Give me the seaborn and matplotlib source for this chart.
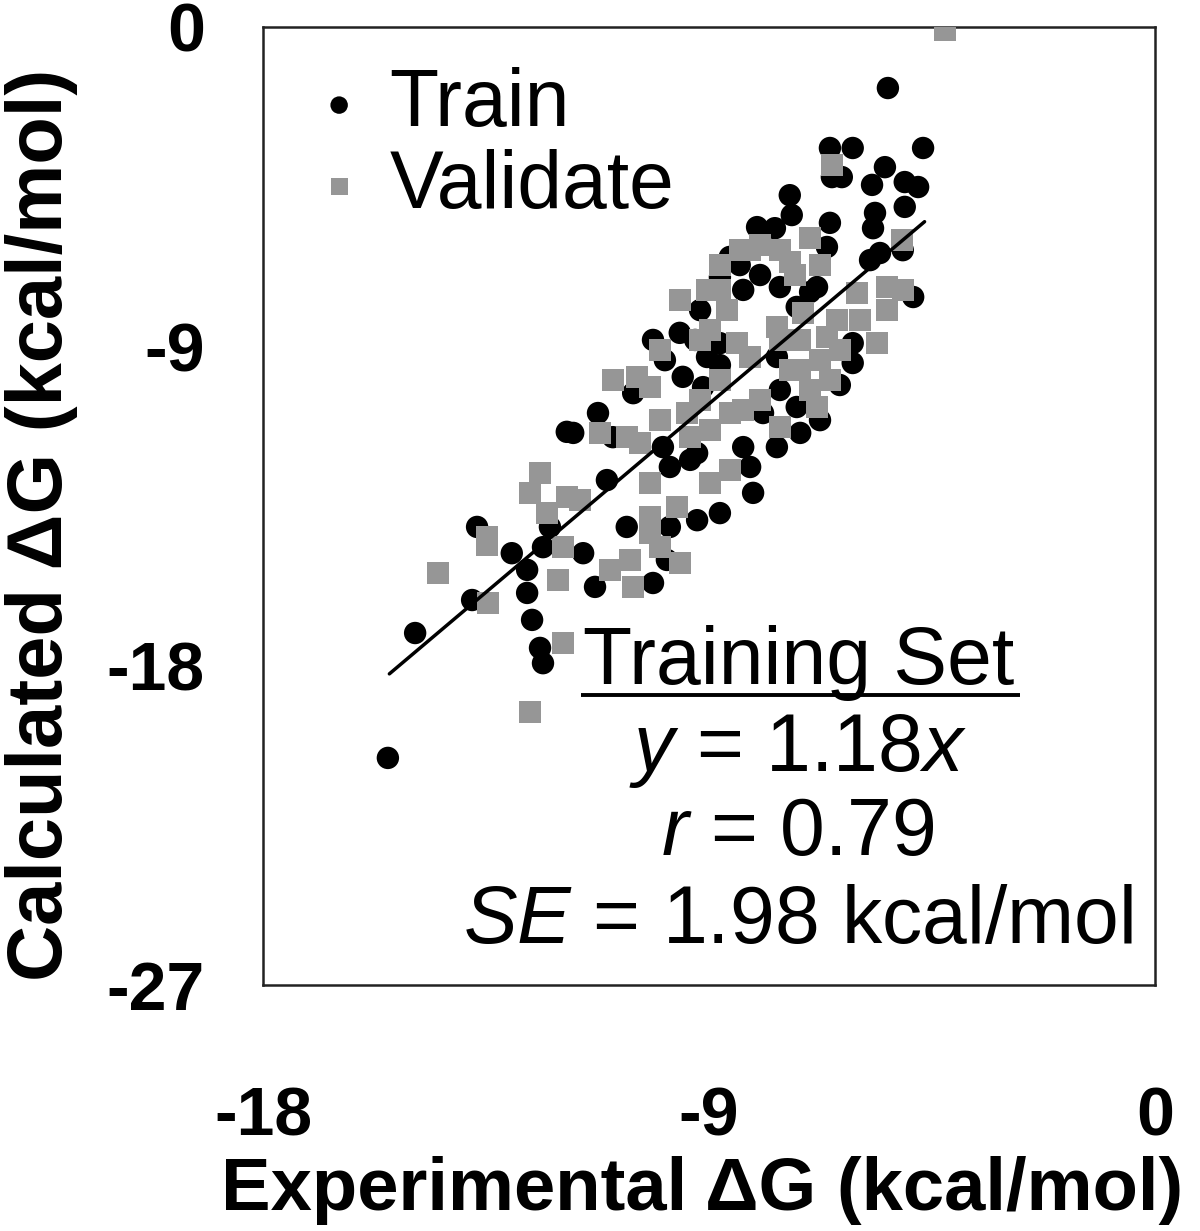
import numpy as np
import pandas as pd
import matplotlib
matplotlib.use("Agg")
import matplotlib.pyplot as plt
import seaborn as sns

# Experimental / calculated binding free energies (kcal/mol)
train_x = [-15.48, -14.93, -13.78, -13.68, -12.98, -12.67, -12.67, -12.57, -12.41, -12.35,
           -12.35, -12.21, -11.87, -11.54, -11.30, -10.13, -9.85, -11.24, -11.74, -10.94,
           -11.06, -10.66, -9.79, -9.24, -8.78, -8.11, -8.17, -8.31, -9.38, -9.79,
           -9.24, -9.93, -10.53, -9.53, -9.12, -9.04, -9.59, -10.13, -9.18, -8.31,
           -7.91, -8.78, -8.58, -8.03, -7.57, -6.82, -7.23, -4.88, -6.10, -6.10,
           -7.57, -7.23, -6.76, -7.63, -7.16, -7.63, -5.39, -6.56, -6.10, -4.68,
           -5.45, -5.71, -5.05, -4.78, -6.52, -6.32, -7.37, -5.05, -5.65, -5.69,
           -6.56, -7.33, -7.67, -5.75, -5.55, -6.62, -5.09, -6.36, -8.78,
           -9.28, -8.78, -9.89, -8.38, -7.97, -6.96]
train_y = [-20.60, -17.08, -16.15, -14.09, -14.83, -15.30, -15.95, -16.71, -17.50, -17.93,
           -14.66, -14.09, -11.41, -14.83, -15.78, -15.67, -15.02, -10.88, -11.44, -11.56,
           -12.77, -14.09, -14.09, -13.90, -13.70, -13.13, -12.40, -11.84, -12.20, -12.40,
           -12.01, -11.84, -10.32, -9.86, -10.15, -9.30, -8.62, -8.82, -7.98, -7.41,
           -10.88, -7.05, -6.48, -5.64, -7.33, -7.33, -7.89, -7.61, -9.47, -8.91,
           -10.23, -10.71, -11.08, -11.84, -11.44, -9.30, -1.72, -3.41, -3.41, -3.41,
           -3.95, -4.45, -4.37, -4.51, -4.23, -4.23, -4.74, -5.07, -5.24, -5.67,
           -5.52, -5.30, -5.67, -6.57, -6.37, -6.20, -6.29, -10.09, -8.91,
           -8.82, -9.53, -9.39, -6.71, -6.99, -7.47]

val_x = [-4.24, -6.52, -6.96, -5.11, -7.57, -6.76, -8.17, -9.04, -8.64, -8.98,
         -8.44, -9.99, -8.17, -10.94, -10.45, -10.19, -9.44, -9.99, -11.20, -10.66,
         -10.39, -8.58, -8.31, -9.38, -8.98, -10.19, -8.98, -8.58, -11.60, -10.19,
         -9.65, -10.19, -7.63, -7.10, -6.62, -6.76, -6.96, -6.82, -7.57, -5.41,
         -5.09, -5.41, -5.61, -6.01, -6.42, -7.37, -12.41, -12.61, -12.27, -13.48,
         -11.87, -13.48, -14.47, -13.46, -12.05, -11.95, -12.61, -11.95, -11.00, -10.59,
         -10.53, -9.59, -9.99, -8.38, -8.78, -7.27, -9.18, -7.97,
         -7.16, -6.36, -5.95, -7.16, -6.56, -8.78, -9.18, -7.57, -7.97, -7.37,
         -8.78, -9.59]
val_y = [-0.08, -3.89, -5.95, -6.00, -6.29, -6.71, -6.29, -7.41, -7.98, -8.54,
         -8.91, -9.10, -9.30, -9.95, -9.86, -10.15, -10.88, -11.08, -11.44, -11.56,
         -11.73, -10.88, -10.79, -11.56, -11.36, -12.85, -12.85, -12.49, -13.33, -13.81,
         -13.53, -14.26, -8.46, -8.06, -8.74, -9.39, -10.23, -10.71, -11.27, -7.33,
         -7.41, -7.98, -8.91, -7.50, -8.26, -9.67, -12.57, -13.13, -13.70, -14.37,
         -13.25, -14.60, -15.39, -16.23, -15.59, -17.36, -19.31, -14.66, -15.30, -15.02,
         -15.78, -15.11, -14.66, -6.29, -6.71, -6.99, -8.82, -10.51,
         -8.82, -9.10, -8.26, -9.67, -9.95, -9.95, -10.51, -8.82, -6.14, -6.62,
         -7.41, -7.69]

# training-set fit y = 1.18x
fit_slope = 1.18
fit_x = [-15.45, -4.65]

x_ticks = [-18, -9, 0]
y_ticks = [-27, -18, -9, 0]

train = pd.DataFrame({"exp": train_x, "calc": train_y})
val = pd.DataFrame({"exp": val_x, "calc": val_y})
fit = pd.DataFrame({"exp": fit_x, "calc": [fit_slope * v for v in fit_x]})

sns.set_style("white")
plt.rcParams["font.family"] = ["Liberation Sans", "DejaVu Sans"]
plt.rcParams["axes.unicode_minus"] = False
plt.rcParams["mathtext.fontset"] = "custom"
plt.rcParams["mathtext.rm"] = "Liberation Sans"
plt.rcParams["mathtext.it"] = "Liberation Sans:italic"
for key in ["text.color", "axes.labelcolor", "xtick.color", "ytick.color"]:
    plt.rcParams[key] = "black"

fig = plt.figure(figsize=(12, 12.31), dpi=100)
ax = fig.add_axes([263 / 1200, 1 - 985 / 1231, 892 / 1200, 958 / 1231])

sns.scatterplot(data=train, x="exp", y="calc", ax=ax, color="black", marker="o",
                s=260, edgecolor="none", label="Train", zorder=2)
sns.scatterplot(data=val, x="exp", y="calc", ax=ax, color="#969696", marker="s",
                s=250, edgecolor="none", label="Validate", zorder=3)
sns.lineplot(data=fit, x="exp", y="calc", ax=ax, color="black", linewidth=2.5, zorder=4)

ax.set_xlim(-18, 0)
ax.set_ylim(-27, 0)
ax.set_xticks(x_ticks)
ax.set_yticks(y_ticks)
ax.tick_params(axis="both", length=0, labelsize=49)
ax.tick_params(axis="x", pad=72)
ax.tick_params(axis="y", pad=42)
for lab in ax.get_xticklabels() + ax.get_yticklabels():
    lab.set_fontweight("bold")
for sp in ax.spines.values():
    sp.set_visible(True)
    sp.set_color("#222222")
    sp.set_linewidth(1.8)

ax.set_xlabel("Experimental ΔG (kcal/mol)", fontsize=53.5, fontweight="bold")
ax.set_ylabel("Calculated ΔG (kcal/mol)", fontsize=56, fontweight="bold")
ax.xaxis.label.set_verticalalignment("baseline")
ax.xaxis.set_label_coords(0.492, -0.235)
ax.yaxis.set_label_coords(-0.207, 0.48)

ax.legend(loc="upper left", bbox_to_anchor=(0.056, 0.958), frameon=False,
          fontsize=58, handlelength=0.65, handletextpad=0.3, labelspacing=0.07,
          borderpad=0, borderaxespad=0, markerscale=0.78)

# fit statistics box
tx = 0.600
ax.text(tx, 0.314, "Training Set", transform=ax.transAxes, ha="center",
        va="baseline", fontsize=58)
ax.plot([0.356, 0.849], [0.303, 0.303], transform=ax.transAxes, color="black",
        linewidth=2.8, solid_capstyle="butt")
ax.text(tx, 0.223, r"$y$ = 1.18$x$", transform=ax.transAxes, ha="center",
        va="baseline", fontsize=58)
ax.text(tx, 0.136, r"$r$ = 0.79", transform=ax.transAxes, ha="center",
        va="baseline", fontsize=58)
ax.text(tx, 0.044, r"$SE$ = 1.98 kcal/mol", transform=ax.transAxes, ha="center",
        va="baseline", fontsize=58)

fig.savefig("out.png", dpi=100, facecolor="white")
